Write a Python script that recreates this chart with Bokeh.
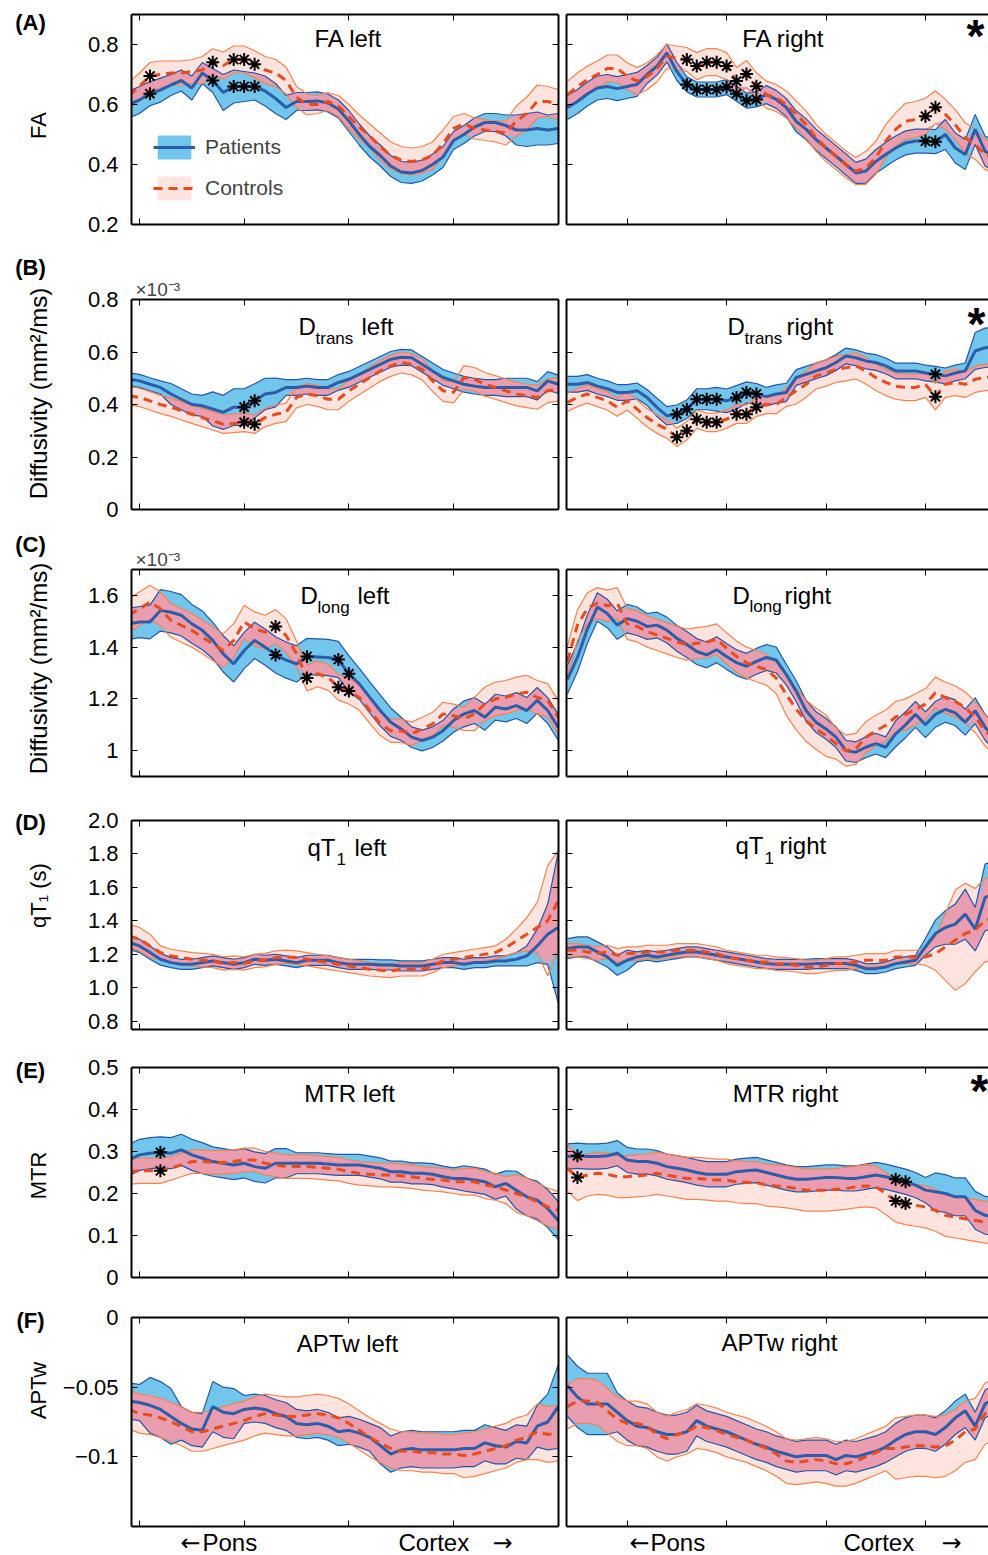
import numpy as np
from bokeh.plotting import figure
from bokeh.models import Range1d, LinearAxis, FixedTicker, Label, Legend, LegendItem
from bokeh.layouts import row, column
from bokeh.embed import file_html
from bokeh.resources import INLINE

FONT = "Liberation Sans"
ARROW_FONT = "DejaVu Sans"

# sample positions along the tract
left_pos = list(range(9, 51))    # 42 samples, left hemisphere
right_pos = list(range(4, 48))   # 44 samples, right hemisphere
x_ticks = [10, 20, 30, 40]

# ---------------- (A) FA ----------------
fa_left_pat_mean = [0.600,0.615,0.636,0.648,0.665,0.680,0.655,0.705,0.680,0.640,
                    0.660,0.660,0.660,0.645,0.620,0.590,0.610,0.610,0.612,0.605,
                    0.585,0.545,0.500,0.460,0.430,0.395,0.375,0.372,0.380,0.400,
                    0.425,0.480,0.500,0.525,0.540,0.540,0.530,0.515,0.515,0.520,
                    0.515,0.520]
fa_left_pat_sd = [0.045,0.045,0.040,0.040,0.035,0.035,0.040,0.035,0.040,0.060,
                  0.055,0.050,0.045,0.050,0.050,0.040,0.030,0.030,0.030,0.030,
                  0.030,0.035,0.035,0.035,0.035,0.035,0.035,0.035,0.035,0.035,
                  0.035,0.030,0.030,0.030,0.030,0.030,0.035,0.050,0.055,0.055,
                  0.050,0.050]
fa_left_con_mean = [0.630,0.660,0.695,0.700,0.705,0.705,0.710,0.715,0.741,0.730,
                    0.750,0.750,0.734,0.715,0.705,0.680,0.625,0.600,0.600,0.610,
                    0.595,0.560,0.525,0.495,0.460,0.430,0.415,0.410,0.415,0.430,
                    0.470,0.520,0.535,0.520,0.515,0.510,0.505,0.545,0.570,0.610,
                    0.610,0.600]
fa_left_con_sd = [0.045,0.045,0.045,0.045,0.040,0.040,0.040,0.045,0.045,0.045,
                  0.045,0.045,0.045,0.045,0.045,0.045,0.035,0.035,0.030,0.030,
                  0.035,0.040,0.040,0.040,0.045,0.045,0.045,0.045,0.045,0.045,
                  0.045,0.040,0.035,0.035,0.035,0.035,0.040,0.050,0.055,0.055,
                  0.050,0.050]
fa_left_stars = [11, 17, 19, 20, 21]

fa_right_pat_mean = [0.590,0.610,0.635,0.655,0.660,0.653,0.660,0.667,0.700,0.728,
                     0.772,0.710,0.667,0.650,0.650,0.650,0.658,0.636,0.613,0.617,
                     0.633,0.617,0.590,0.544,0.517,0.483,0.455,0.428,0.400,0.372,
                     0.378,0.410,0.433,0.455,0.472,0.478,0.478,0.476,0.500,0.455,
                     0.433,0.517,0.444,0.430]
fa_right_pat_sd = [0.040,0.040,0.040,0.040,0.040,0.040,0.040,0.040,0.030,0.030,
                   0.030,0.030,0.025,0.025,0.025,0.025,0.025,0.025,0.025,0.025,
                   0.030,0.030,0.030,0.035,0.035,0.035,0.035,0.035,0.035,0.035,
                   0.040,0.040,0.040,0.040,0.040,0.040,0.040,0.040,0.050,0.050,
                   0.050,0.050,0.050,0.050]
fa_right_con_mean = [0.633,0.660,0.683,0.700,0.720,0.720,0.694,0.678,0.694,0.720,
                     0.760,0.755,0.750,0.728,0.741,0.741,0.728,0.678,0.702,0.661,
                     0.633,0.622,0.600,0.567,0.533,0.489,0.455,0.428,0.400,0.378,
                     0.389,0.422,0.478,0.517,0.544,0.550,0.561,0.591,0.567,0.533,
                     0.489,0.467,0.433,0.420]
fa_right_con_sd = [0.045,0.045,0.045,0.045,0.045,0.045,0.045,0.045,0.045,0.045,
                   0.040,0.040,0.040,0.045,0.045,0.045,0.045,0.045,0.045,0.045,
                   0.045,0.045,0.045,0.045,0.045,0.045,0.045,0.045,0.045,0.045,
                   0.055,0.055,0.055,0.055,0.060,0.060,0.060,0.055,0.050,0.050,
                   0.050,0.050,0.050,0.050]
fa_right_stars = [16, 17, 18, 19, 20, 21, 22, 23, 40, 41]

# ---------------- (B) D_trans (x10^-3 mm2/ms) ----------------
dtrans_left_pat_mean = [0.496,0.490,0.477,0.465,0.440,0.420,0.400,0.395,0.383,0.370,
                        0.390,0.390,0.414,0.440,0.446,0.465,0.465,0.470,0.465,0.465,
                        0.484,0.496,0.515,0.534,0.553,0.572,0.580,0.578,0.553,0.528,
                        0.503,0.490,0.477,0.470,0.465,0.465,0.465,0.465,0.465,0.452,
                        0.490,0.477]
dtrans_left_pat_sd = [0.025,0.025,0.025,0.025,0.040,0.040,0.040,0.040,0.065,0.065,
                      0.070,0.070,0.065,0.060,0.055,0.030,0.030,0.030,0.030,0.030,
                      0.030,0.030,0.030,0.030,0.030,0.030,0.030,0.030,0.030,0.030,
                      0.030,0.030,0.030,0.030,0.030,0.030,0.035,0.035,0.035,0.035,
                      0.035,0.035]
dtrans_left_con_mean = [0.433,0.427,0.414,0.400,0.390,0.376,0.363,0.350,0.338,0.325,
                        0.328,0.332,0.325,0.350,0.363,0.370,0.427,0.440,0.433,0.420,
                        0.420,0.452,0.477,0.503,0.528,0.547,0.560,0.553,0.534,0.490,
                        0.452,0.446,0.503,0.496,0.477,0.465,0.452,0.440,0.433,0.427,
                        0.452,0.458]
dtrans_left_con_sd = [0.035,0.035,0.035,0.035,0.035,0.035,0.035,0.035,0.035,0.035,
                      0.035,0.035,0.035,0.035,0.035,0.035,0.040,0.040,0.040,0.040,
                      0.040,0.040,0.040,0.040,0.040,0.040,0.040,0.040,0.040,0.040,
                      0.040,0.040,0.045,0.045,0.045,0.045,0.045,0.045,0.045,0.045,
                      0.045,0.045]
dtrans_left_stars = [20, 21]

dtrans_right_pat_mean = [0.477,0.477,0.484,0.470,0.460,0.446,0.446,0.452,0.427,0.389,
                         0.357,0.363,0.382,0.420,0.420,0.420,0.414,0.427,0.446,0.440,
                         0.430,0.440,0.446,0.503,0.515,0.528,0.540,0.560,0.585,0.578,
                         0.566,0.560,0.547,0.528,0.528,0.528,0.520,0.515,0.509,0.520,
                         0.528,0.604,0.616,0.620]
dtrans_right_pat_sd = [0.030,0.030,0.030,0.030,0.030,0.030,0.030,0.030,0.030,0.035,
                       0.035,0.035,0.035,0.040,0.040,0.045,0.045,0.045,0.040,0.040,
                       0.035,0.035,0.035,0.030,0.030,0.030,0.030,0.030,0.030,0.030,
                       0.030,0.030,0.030,0.030,0.030,0.030,0.030,0.030,0.030,0.030,
                       0.030,0.070,0.075,0.075]
dtrans_right_con_mean = [0.408,0.427,0.440,0.427,0.414,0.390,0.414,0.382,0.350,0.325,
                         0.306,0.275,0.300,0.344,0.332,0.332,0.344,0.363,0.363,0.390,
                         0.400,0.400,0.427,0.452,0.477,0.509,0.520,0.534,0.540,0.547,
                         0.528,0.503,0.484,0.470,0.465,0.465,0.477,0.430,0.477,0.484,
                         0.477,0.496,0.503,0.505]
dtrans_right_con_sd = [0.035,0.035,0.035,0.035,0.035,0.035,0.035,0.035,0.035,0.035,
                       0.035,0.035,0.035,0.035,0.035,0.035,0.035,0.035,0.035,0.035,
                       0.035,0.035,0.035,0.050,0.050,0.050,0.050,0.050,0.050,0.050,
                       0.050,0.050,0.050,0.050,0.050,0.050,0.050,0.050,0.050,0.050,
                       0.050,0.050,0.050,0.050]
dtrans_right_stars = [15, 16, 17, 18, 19, 21, 22, 23, 41]

# ---------------- (C) D_long (x10^-3 mm2/ms) ----------------
dlong_left_pat_mean = [1.490,1.497,1.497,1.542,1.535,1.523,1.490,1.465,1.426,1.374,
                       1.335,1.387,1.426,1.400,1.370,1.350,1.335,1.364,1.362,1.360,
                       1.352,1.297,1.258,1.206,1.155,1.110,1.084,1.052,1.039,1.052,
                       1.077,1.116,1.142,1.155,1.129,1.168,1.161,1.174,1.155,1.194,
                       1.155,1.090]
dlong_left_pat_sd = [0.060,0.060,0.065,0.080,0.080,0.080,0.075,0.075,0.070,0.070,
                     0.070,0.070,0.070,0.070,0.070,0.070,0.070,0.070,0.070,0.070,
                     0.070,0.070,0.060,0.060,0.060,0.055,0.045,0.040,0.040,0.040,
                     0.040,0.045,0.050,0.050,0.050,0.050,0.050,0.050,0.050,0.050,
                     0.050,0.050]
dlong_left_con_mean = [1.523,1.548,1.574,1.548,1.503,1.484,1.465,1.439,1.413,1.387,
                       1.426,1.497,1.471,1.458,1.480,1.445,1.374,1.281,1.297,1.284,
                       1.245,1.230,1.206,1.155,1.103,1.077,1.077,1.065,1.084,1.103,
                       1.142,1.135,1.123,1.142,1.181,1.200,1.206,1.219,1.226,1.206,
                       1.194,1.129]
dlong_left_con_sd = [0.065,0.065,0.065,0.065,0.065,0.065,0.065,0.065,0.065,0.065,
                     0.065,0.065,0.065,0.065,0.065,0.065,0.050,0.050,0.050,0.050,
                     0.050,0.050,0.050,0.050,0.045,0.045,0.045,0.045,0.045,0.045,
                     0.045,0.045,0.045,0.065,0.065,0.065,0.065,0.065,0.065,0.065,
                     0.065,0.065]
dlong_left_stars = [23, 26, 29, 30]

dlong_right_pat_mean = [1.275,1.360,1.470,1.555,1.530,1.485,1.510,1.500,1.480,1.485,
                        1.466,1.434,1.410,1.383,1.370,1.390,1.364,1.340,1.326,1.345,
                        1.360,1.350,1.294,1.230,1.154,1.110,1.084,1.052,1.000,0.994,
                        1.013,1.027,1.013,1.065,1.100,1.140,1.100,1.140,1.160,1.146,
                        1.110,1.154,1.090,1.050]
dlong_right_pat_sd = [0.055,0.055,0.055,0.055,0.055,0.055,0.055,0.055,0.050,0.050,
                      0.050,0.050,0.050,0.050,0.050,0.050,0.050,0.050,0.050,0.050,
                      0.050,0.050,0.040,0.040,0.040,0.040,0.040,0.040,0.040,0.040,
                      0.040,0.040,0.040,0.050,0.050,0.050,0.050,0.050,0.050,0.050,
                      0.050,0.050,0.050,0.050]
dlong_right_con_mean = [1.345,1.485,1.550,1.570,1.560,1.570,1.490,1.480,1.460,1.447,
                        1.434,1.420,1.410,1.415,1.420,1.430,1.396,1.364,1.340,1.326,
                        1.313,1.280,1.217,1.160,1.115,1.084,1.058,1.027,1.000,1.007,
                        1.052,1.077,1.097,1.130,1.140,1.160,1.180,1.224,1.205,1.190,
                        1.167,1.130,1.077,1.040]
dlong_right_con_sd = [0.060,0.060,0.060,0.060,0.060,0.060,0.060,0.060,0.060,0.060,
                      0.060,0.060,0.060,0.060,0.060,0.060,0.060,0.060,0.060,0.060,
                      0.060,0.060,0.080,0.080,0.080,0.080,0.080,0.060,0.060,0.060,
                      0.060,0.060,0.060,0.060,0.060,0.060,0.060,0.060,0.060,0.060,
                      0.060,0.060,0.060,0.060]
dlong_right_stars = []

# ---------------- (D) qT1 (s) ----------------
qt1_left_pat_mean = [1.270,1.250,1.210,1.170,1.150,1.140,1.140,1.150,1.160,1.150,
                     1.140,1.150,1.170,1.164,1.170,1.160,1.150,1.164,1.164,1.164,
                     1.150,1.140,1.140,1.140,1.136,1.136,1.130,1.130,1.130,1.140,
                     1.150,1.150,1.140,1.150,1.150,1.160,1.160,1.170,1.190,1.250,
                     1.320,1.360]
qt1_left_pat_sd = [0.040,0.040,0.040,0.035,0.030,0.030,0.030,0.030,0.030,0.030,
                   0.030,0.030,0.030,0.030,0.030,0.030,0.030,0.030,0.030,0.030,
                   0.030,0.030,0.030,0.030,0.030,0.030,0.030,0.030,0.030,0.030,
                   0.030,0.030,0.030,0.030,0.030,0.030,0.030,0.040,0.060,0.100,
                   0.180,0.450]
qt1_left_con_mean = [1.310,1.290,1.250,1.210,1.190,1.180,1.170,1.165,1.160,1.145,
                     1.150,1.145,1.160,1.165,1.180,1.185,1.180,1.170,1.160,1.150,
                     1.140,1.130,1.120,1.110,1.105,1.100,1.110,1.110,1.110,1.130,
                     1.160,1.170,1.180,1.190,1.200,1.210,1.240,1.280,1.320,1.360,
                     1.400,1.520]
qt1_left_con_sd = [0.070,0.070,0.070,0.040,0.040,0.040,0.040,0.040,0.040,0.040,
                   0.040,0.040,0.040,0.040,0.040,0.040,0.040,0.040,0.040,0.040,
                   0.040,0.040,0.040,0.040,0.040,0.040,0.040,0.040,0.040,0.040,
                   0.040,0.040,0.040,0.040,0.040,0.040,0.050,0.070,0.100,0.150,
                   0.330,0.300]
qt1_left_stars = []

qt1_right_pat_mean = [1.234,1.244,1.244,1.214,1.184,1.134,1.164,1.184,1.194,1.184,
                      1.194,1.204,1.214,1.214,1.204,1.194,1.184,1.174,1.164,1.154,
                      1.144,1.140,1.140,1.140,1.140,1.144,1.144,1.144,1.144,1.134,
                      1.114,1.114,1.124,1.144,1.154,1.164,1.244,1.324,1.360,1.380,
                      1.440,1.350,1.540,1.560]
qt1_right_pat_sd = [0.060,0.060,0.060,0.060,0.060,0.060,0.060,0.030,0.030,0.030,
                    0.030,0.030,0.030,0.030,0.030,0.030,0.030,0.030,0.030,0.030,
                    0.030,0.030,0.030,0.030,0.030,0.030,0.030,0.030,0.030,0.030,
                    0.030,0.030,0.030,0.030,0.030,0.030,0.050,0.080,0.100,0.120,
                    0.150,0.130,0.200,0.200]
qt1_right_con_mean = [1.224,1.224,1.214,1.204,1.214,1.194,1.204,1.204,1.214,1.214,
                      1.214,1.224,1.224,1.224,1.214,1.204,1.184,1.174,1.164,1.154,
                      1.154,1.144,1.140,1.134,1.124,1.124,1.134,1.144,1.144,1.154,
                      1.164,1.164,1.164,1.184,1.184,1.184,1.184,1.204,1.244,1.284,
                      1.324,1.344,1.404,1.420]
qt1_right_con_sd = [0.040,0.040,0.040,0.040,0.040,0.040,0.040,0.040,0.040,0.040,
                    0.040,0.040,0.040,0.040,0.040,0.040,0.040,0.040,0.040,0.040,
                    0.040,0.040,0.040,0.040,0.040,0.040,0.040,0.040,0.040,0.040,
                    0.040,0.040,0.040,0.040,0.040,0.040,0.050,0.100,0.200,0.300,
                    0.300,0.250,0.250,0.250]
qt1_right_stars = []

# ---------------- (E) MTR ----------------
mtr_left_pat_mean = [0.280,0.292,0.296,0.298,0.296,0.304,0.292,0.284,0.276,0.272,
                     0.268,0.272,0.264,0.260,0.272,0.272,0.272,0.272,0.272,0.270,
                     0.268,0.268,0.268,0.264,0.260,0.252,0.252,0.248,0.248,0.246,
                     0.240,0.236,0.236,0.232,0.228,0.216,0.224,0.208,0.192,0.184,
                     0.164,0.136]
mtr_left_pat_sd = [0.037,0.037,0.037,0.037,0.037,0.037,0.037,0.037,0.035,0.035,
                   0.035,0.035,0.035,0.035,0.035,0.035,0.025,0.025,0.025,0.025,
                   0.025,0.025,0.025,0.025,0.025,0.025,0.025,0.025,0.025,0.025,
                   0.025,0.025,0.030,0.030,0.030,0.030,0.030,0.045,0.045,0.045,
                   0.045,0.045]
mtr_left_con_mean = [0.252,0.254,0.254,0.254,0.260,0.268,0.276,0.276,0.274,0.274,
                     0.276,0.280,0.280,0.272,0.268,0.264,0.264,0.264,0.262,0.260,
                     0.258,0.252,0.248,0.246,0.244,0.244,0.242,0.240,0.236,0.234,
                     0.232,0.228,0.228,0.228,0.220,0.216,0.208,0.200,0.192,0.180,
                     0.168,0.160]
mtr_left_con_sd = [0.030,0.030,0.030,0.030,0.028,0.028,0.028,0.028,0.028,0.028,
                   0.028,0.028,0.028,0.028,0.028,0.028,0.028,0.028,0.028,0.028,
                   0.028,0.028,0.028,0.028,0.028,0.028,0.028,0.028,0.028,0.028,
                   0.028,0.028,0.032,0.032,0.032,0.032,0.032,0.045,0.045,0.045,
                   0.045,0.045]
mtr_left_stars = [12]

mtr_right_pat_mean = [0.288,0.290,0.288,0.288,0.290,0.296,0.280,0.276,0.276,0.272,
                      0.264,0.260,0.256,0.250,0.246,0.246,0.246,0.252,0.254,0.256,
                      0.250,0.244,0.238,0.234,0.234,0.236,0.238,0.238,0.236,0.236,
                      0.240,0.244,0.240,0.234,0.228,0.220,0.208,0.204,0.200,0.192,
                      0.192,0.160,0.148,0.145]
mtr_right_pat_sd = [0.030,0.030,0.030,0.030,0.030,0.030,0.030,0.030,0.030,0.030,
                    0.030,0.030,0.030,0.030,0.030,0.030,0.030,0.030,0.030,0.030,
                    0.030,0.030,0.030,0.030,0.030,0.030,0.030,0.030,0.030,0.030,
                    0.030,0.030,0.030,0.030,0.030,0.030,0.030,0.045,0.045,0.045,
                    0.045,0.045,0.045,0.045]
mtr_right_con_mean = [0.260,0.238,0.244,0.248,0.246,0.240,0.240,0.242,0.244,0.248,
                      0.244,0.240,0.236,0.236,0.234,0.232,0.232,0.228,0.226,0.226,
                      0.220,0.218,0.216,0.212,0.208,0.208,0.208,0.210,0.212,0.216,
                      0.218,0.216,0.200,0.182,0.176,0.172,0.168,0.160,0.148,0.144,
                      0.140,0.136,0.132,0.130]
mtr_right_con_sd = [0.055,0.055,0.050,0.050,0.050,0.050,0.050,0.050,0.050,0.050,
                    0.050,0.050,0.050,0.050,0.050,0.050,0.050,0.050,0.050,0.050,
                    0.050,0.050,0.050,0.050,0.050,0.050,0.050,0.050,0.050,0.050,
                    0.050,0.050,0.050,0.050,0.050,0.050,0.050,0.050,0.050,0.050,
                    0.050,0.050,0.050,0.050]
mtr_right_stars = [5, 37, 38]

# ---------------- (F) APTw ----------------
aptw_left_pat_mean = [-0.060,-0.061,-0.063,-0.066,-0.071,-0.076,-0.080,-0.081,-0.064,-0.068,
                      -0.069,-0.066,-0.065,-0.066,-0.069,-0.071,-0.076,-0.077,-0.076,-0.078,
                      -0.082,-0.081,-0.083,-0.086,-0.092,-0.098,-0.095,-0.094,-0.095,-0.095,
                      -0.095,-0.095,-0.094,-0.094,-0.090,-0.092,-0.093,-0.089,-0.090,-0.078,
                      -0.075,-0.064]
aptw_left_pat_sd = [0.013,0.013,0.020,0.020,0.020,0.012,0.012,0.012,0.018,0.018,
                    0.018,0.010,0.010,0.010,0.010,0.010,0.010,0.010,0.010,0.010,
                    0.010,0.010,0.010,0.010,0.013,0.013,0.013,0.013,0.013,0.013,
                    0.013,0.013,0.013,0.013,0.013,0.013,0.012,0.012,0.012,0.015,
                    0.020,0.030]
aptw_left_con_mean = [-0.066,-0.069,-0.070,-0.072,-0.075,-0.078,-0.082,-0.082,-0.080,-0.078,
                      -0.076,-0.074,-0.071,-0.069,-0.070,-0.071,-0.071,-0.070,-0.069,-0.070,
                      -0.072,-0.076,-0.081,-0.086,-0.090,-0.094,-0.096,-0.096,-0.097,-0.097,
                      -0.098,-0.098,-0.099,-0.098,-0.096,-0.094,-0.092,-0.088,-0.086,-0.082,
                      -0.084,-0.083]
aptw_left_con_sd = [0.014,0.014,0.014,0.014,0.014,0.014,0.014,0.014,0.014,0.014,
                    0.014,0.014,0.014,0.014,0.014,0.014,0.014,0.014,0.014,0.014,
                    0.014,0.014,0.014,0.014,0.014,0.014,0.014,0.014,0.014,0.014,
                    0.014,0.014,0.016,0.016,0.016,0.016,0.016,0.016,0.016,0.020,
                    0.020,0.020]
aptw_left_stars = []

aptw_right_pat_mean = [-0.049,-0.057,-0.062,-0.062,-0.062,-0.068,-0.074,-0.078,-0.079,-0.082,
                       -0.084,-0.084,-0.082,-0.074,-0.078,-0.080,-0.082,-0.085,-0.088,-0.091,
                       -0.093,-0.096,-0.098,-0.100,-0.099,-0.099,-0.099,-0.102,-0.099,-0.100,
                       -0.098,-0.096,-0.093,-0.088,-0.084,-0.082,-0.082,-0.084,-0.079,-0.072,
                       -0.067,-0.078,-0.062,-0.058]
aptw_right_pat_sd = [0.022,0.022,0.022,0.022,0.022,0.014,0.014,0.014,0.014,0.014,
                     0.014,0.014,0.014,0.011,0.011,0.011,0.011,0.011,0.011,0.011,
                     0.011,0.011,0.011,0.011,0.011,0.011,0.011,0.011,0.011,0.011,
                     0.011,0.011,0.011,0.012,0.012,0.012,0.012,0.012,0.012,0.012,
                     0.012,0.010,0.010,0.010]
aptw_right_con_mean = [-0.064,-0.060,-0.060,-0.061,-0.067,-0.073,-0.076,-0.076,-0.078,-0.084,
                       -0.087,-0.084,-0.082,-0.078,-0.079,-0.081,-0.084,-0.086,-0.088,-0.091,
                       -0.094,-0.098,-0.103,-0.104,-0.103,-0.102,-0.103,-0.105,-0.105,-0.103,
                       -0.100,-0.097,-0.094,-0.094,-0.093,-0.092,-0.092,-0.093,-0.092,-0.088,
                       -0.082,-0.080,-0.069,-0.066]
aptw_right_con_sd = [0.016,0.016,0.016,0.016,0.016,0.016,0.016,0.016,0.016,0.016,
                     0.016,0.016,0.016,0.016,0.016,0.016,0.016,0.016,0.016,0.016,
                     0.016,0.016,0.016,0.016,0.016,0.016,0.016,0.016,0.016,0.016,
                     0.016,0.016,0.016,0.022,0.022,0.022,0.022,0.022,0.022,0.022,
                     0.022,0.022,0.022,0.022]
aptw_right_stars = []

# ---------------- styling ----------------
P_FILL = "#72c6ec"
C_FILL = "#fde4df"
OV_FILL = "#eb9db0"
P_EDGE = "#2356a8"
C_EDGE = "#f2844f"
P_MEAN = "#2c5daa"
C_MEAN = "#e94c1c"

PAGE_W, PAGE_H = 988, 1555
TXT_W = 56            # width of the left text column
L_FRAME_LEFT = 131    # page px
R_FRAME_LEFT = 566
STRIP_H = 26

ROWS = [
    dict(letter="(A)", top_page=0, h=252, top=14, bottom=28, ylim=(0.2, 0.9),
         yticks=[0.2, 0.4, 0.6, 0.8], ylab=["0.2", "0.4", "0.6", "0.8"],
         ylabel="FA", ylabel_size=22, ylabel_y=125, letter_y=22, scale=None,
         left=(fa_left_pat_mean, fa_left_pat_sd, fa_left_con_mean, fa_left_con_sd, fa_left_stars),
         right=(fa_right_pat_mean, fa_right_pat_sd, fa_right_con_mean, fa_right_con_sd, fa_right_stars)),
    dict(letter="(B)", top_page=252, h=280, top=47, bottom=23, ylim=(0.0, 0.8),
         yticks=[0.0, 0.2, 0.4, 0.6, 0.8], ylab=["0", "0.2", "0.4", "0.6", "0.8"],
         ylabel="Diffusivity (mm\u00b2/ms)", ylabel_size=24, ylabel_y=393, letter_y=267,
         scale="\u00d710\u207b\u00b3",
         left=(dtrans_left_pat_mean, dtrans_left_pat_sd, dtrans_left_con_mean, dtrans_left_con_sd, dtrans_left_stars),
         right=(dtrans_right_pat_mean, dtrans_right_pat_sd, dtrans_right_con_mean, dtrans_right_con_sd, dtrans_right_stars)),
    dict(letter="(C)", top_page=532, h=268, top=37, bottom=24, ylim=(0.9, 1.7),
         yticks=[1.0, 1.2, 1.4, 1.6], ylab=["1", "1.2", "1.4", "1.6"],
         ylabel="Diffusivity (mm\u00b2/ms)", ylabel_size=24, ylabel_y=668, letter_y=544,
         scale="\u00d710\u207b\u00b3",
         left=(dlong_left_pat_mean, dlong_left_pat_sd, dlong_left_con_mean, dlong_left_con_sd, dlong_left_stars),
         right=(dlong_right_pat_mean, dlong_right_pat_sd, dlong_right_con_mean, dlong_right_con_sd, dlong_right_stars)),
    dict(letter="(D)", top_page=800, h=247, top=20, bottom=18, ylim=(0.75, 2.0),
         yticks=[0.8, 1.0, 1.2, 1.4, 1.6, 1.8, 2.0], ylab=["0.8", "1.0", "1.2", "1.4", "1.6", "1.8", "2.0"],
         ylabel="qT\u2081 (s)", ylabel_size=22, ylabel_y=895, letter_y=822, scale=None,
         left=(qt1_left_pat_mean, qt1_left_pat_sd, qt1_left_con_mean, qt1_left_con_sd, qt1_left_stars),
         right=(qt1_right_pat_mean, qt1_right_pat_sd, qt1_right_con_mean, qt1_right_con_sd, qt1_right_stars)),
    dict(letter="(E)", top_page=1047, h=249, top=20, bottom=19, ylim=(0.0, 0.5),
         yticks=[0.0, 0.1, 0.2, 0.3, 0.4, 0.5], ylab=["0", "0.1", "0.2", "0.3", "0.4", "0.5"],
         ylabel="MTR", ylabel_size=22, ylabel_y=1175, letter_y=1070, scale=None,
         left=(mtr_left_pat_mean, mtr_left_pat_sd, mtr_left_con_mean, mtr_left_con_sd, mtr_left_stars),
         right=(mtr_right_pat_mean, mtr_right_pat_sd, mtr_right_con_mean, mtr_right_con_sd, mtr_right_stars)),
    dict(letter="(F)", top_page=1296, h=233, top=21, bottom=3, ylim=(-0.15, 0.0),
         yticks=[-0.1, -0.05, 0.0], ylab=["\u22120.1", "\u22120.05", "0"],
         ylabel="APTw", ylabel_size=22, ylabel_y=1390, letter_y=1320, scale=None,
         left=(aptw_left_pat_mean, aptw_left_pat_sd, aptw_left_con_mean, aptw_left_con_sd, aptw_left_stars),
         right=(aptw_right_pat_mean, aptw_right_pat_sd, aptw_right_con_mean, aptw_right_con_sd, aptw_right_stars)),
]

# panel titles: (row, side) -> list of (text, page_x, page_y, size, align)
TITLES = {
    (0, "left"): [("FA left", 348, 38, 24, "center")],
    (0, "right"): [("FA right", 783, 38, 24, "center")],
    (1, "left"): [("D", 298, 326, 24, "left"), ("trans", 315, 338, 17, "left"), ("left", 361, 326, 24, "left")],
    (1, "right"): [("D", 727, 326, 24, "left"), ("trans", 744, 338, 17, "left"), ("right", 786, 326, 24, "left")],
    (2, "left"): [("D", 300, 595, 24, "left"), ("long", 317, 607, 17, "left"), ("left", 357, 595, 24, "left")],
    (2, "right"): [("D", 732, 595, 24, "left"), ("long", 749, 606, 17, "left"), ("right", 784, 595, 24, "left")],
    (3, "left"): [("qT", 307, 847, 24, "left"), ("1", 336, 858, 17, "left"), ("left", 354, 847, 24, "left")],
    (3, "right"): [("qT", 735, 845, 24, "left"), ("1", 764, 857, 17, "left"), ("right", 779, 845, 24, "left")],
    (4, "left"): [("MTR left", 349, 1093, 24, "center")],
    (4, "right"): [("MTR right", 785, 1093, 24, "center")],
    (5, "left"): [("APTw left", 347, 1343, 24, "center")],
    (5, "right"): [("APTw right", 779, 1342, 24, "center")],
}
BIG_STARS = {(0, "right"): (975, 35), (1, "right"): (976, 323), (4, "right"): (979, 1090)}
# bottom direction labels: (text, page_x, align, font); vertical centre at page y 1542
BOTTOM_TEXT = [("\u2190", 190, "center", ARROW_FONT), ("Pons", 202, "left", FONT),
               ("Cortex", 398, "left", FONT), ("\u2192", 502, "center", ARROW_FONT),
               ("\u2190", 639, "center", ARROW_FONT), ("Pons", 650, "left", FONT),
               ("Cortex", 843, "left", FONT), ("\u2192", 951, "center", ARROW_FONT)]


def make_axis(ticks, labels=None, show=False):
    ax = LinearAxis(ticker=FixedTicker(ticks=ticks), axis_line_width=2, axis_line_color="black",
                    major_tick_in=6, major_tick_out=0, major_tick_line_color="black",
                    major_tick_line_width=1, minor_tick_line_color=None)
    if show:
        ax.major_label_overrides = {t: s for t, s in zip(ticks, labels)}
        ax.major_label_text_font = FONT
        ax.major_label_text_font_size = "22px"
        ax.major_label_standoff = 13
        ax.major_label_text_color = "black"
    else:
        ax.major_label_text_color = None
        ax.major_label_text_font_size = "1px"
        ax.major_label_standoff = 0
    return ax


def add_text(p, fl, fb, px, py, text, size, bold=False, align="center",
             baseline="middle", angle=0.0, color="black", font=FONT):
    p.add_layout(Label(x=px - fl, y=fb - py, x_units="screen", y_units="screen", text=text,
                       text_font=font, text_font_size=f"{size}px",
                       text_font_style="bold" if bold else "normal",
                       text_align=align, text_baseline=baseline, angle=angle, text_color=color))


def blank_fig(w, h):
    p = figure(width=w, height=h, x_range=Range1d(0, w), y_range=Range1d(0, h),
               output_backend="svg", toolbar_location=None,
               x_axis_location=None, y_axis_location=None, min_border=0,
               outline_line_color=None, background_fill_color="white", border_fill_color="white")
    p.grid.visible = False
    return p


def build_panel(ri, cfg, side):
    is_left = side == "left"
    pos = left_pos if is_left else right_pos
    xr = (9.236, 50.03) if is_left else (3.9, 46.34)
    p = figure(width=(562 - TXT_W) if is_left else (PAGE_W - 562), height=cfg["h"],
               x_range=Range1d(*xr), y_range=Range1d(*cfg["ylim"]),
               output_backend="svg", toolbar_location=None,
               x_axis_location=None, y_axis_location=None,
               min_border_left=(L_FRAME_LEFT - TXT_W) if is_left else 4,
               min_border_right=4 if is_left else 0,
               min_border_top=cfg["top"], min_border_bottom=cfg["bottom"],
               outline_line_color=None, background_fill_color="white", border_fill_color="white")
    p.grid.visible = False
    p.add_layout(make_axis(cfg["yticks"], cfg["ylab"], show=is_left), "left")
    if is_left:
        p.add_layout(make_axis(cfg["yticks"]), "right")
    p.add_layout(make_axis(x_ticks), "below")
    p.add_layout(make_axis(x_ticks), "above")

    if is_left and cfg["scale"]:
        p.title.text = cfg["scale"]
        p.title.align = "left"
        p.title.offset = 4
        p.title.standoff = 0
        p.title.text_font = FONT
        p.title.text_font_size = "19px"
        p.title.text_font_style = "normal"

    pm, ps, cm, cs, stars = cfg[side]
    pm = np.array(pm); ps = np.array(ps); cm = np.array(cm); cs = np.array(cs)
    x = np.array(pos)
    pl, pu = pm - ps, pm + ps
    cl, cu = cm - cs, cm + cs
    ol = np.maximum(pl, cl)
    ou = np.maximum(np.minimum(pu, cu), ol)

    r_cb = p.varea(x=x, y1=cl, y2=cu, fill_color=C_FILL, fill_alpha=1.0)
    r_pb = p.varea(x=x, y1=pl, y2=pu, fill_color=P_FILL, fill_alpha=1.0)
    p.varea(x=x, y1=ol, y2=ou, fill_color=OV_FILL, fill_alpha=1.0)
    for yy in (pu, pl):
        p.line(x, yy, line_color=P_EDGE, line_width=1.2)
    for yy in (cu, cl):
        p.line(x, yy, line_color=C_EDGE, line_width=1.2)
    r_pm = p.line(x, pm, line_color=P_MEAN, line_width=3)
    r_cm = p.line(x, cm, line_color=C_MEAN, line_width=3, line_dash="9 6")
    if stars:
        idx = [pos.index(k) for k in stars]
        sx = np.concatenate([x[idx], x[idx]])
        sy = np.concatenate([pm[idx], cm[idx]])
        p.scatter(sx, sy, marker="asterisk", size=13, line_color="black", line_width=2)

    fl = L_FRAME_LEFT if is_left else R_FRAME_LEFT
    fb = cfg["top_page"] + cfg["h"] - cfg["bottom"]

    for (txt, tx, ty, sz, al) in TITLES[(ri, side)]:
        add_text(p, fl, fb, tx, ty, txt, sz, align=al)

    if (ri, side) in BIG_STARS:
        bx, by = BIG_STARS[(ri, side)]
        add_text(p, fl, fb, bx, by, "*", 46, bold=True, baseline="alphabetic")

    if is_left and ri == 0:
        leg = Legend(items=[LegendItem(label="Patients", renderers=[r_pb, r_pm]),
                            LegendItem(label="Controls", renderers=[r_cb, r_cm])],
                     location=(22, 21), glyph_width=42, glyph_height=30, spacing=11,
                     padding=0, margin=0, label_standoff=10,
                     label_text_font=FONT, label_text_font_size="21px",
                     background_fill_alpha=0, border_line_alpha=0)
        p.add_layout(leg)
    return p


# left text column: panel letters and y-axis titles
text_col = blank_fig(TXT_W, PAGE_H)
for cfg in ROWS:
    add_text(text_col, 0, PAGE_H, 30, cfg["letter_y"], cfg["letter"], 22, bold=True)
for cfg in ROWS:
    add_text(text_col, 0, PAGE_H, 38, cfg["ylabel_y"], cfg["ylabel"], cfg["ylabel_size"],
             angle=np.pi / 2)

panel_rows = []
for ri, cfg in enumerate(ROWS):
    panel_rows.append(row(build_panel(ri, cfg, "left"), build_panel(ri, cfg, "right"), spacing=0))

strip = blank_fig(PAGE_W - TXT_W, STRIP_H)
for (txt, tx, al, fnt) in BOTTOM_TEXT:
    add_text(strip, TXT_W, PAGE_H, tx, 1542, txt, 24, align=al, font=fnt)
panel_rows.append(strip)

layout = row(text_col, column(*panel_rows, spacing=0), spacing=0)
open("out.html", "w").write(file_html(layout, INLINE, title="Tract profiles"))
